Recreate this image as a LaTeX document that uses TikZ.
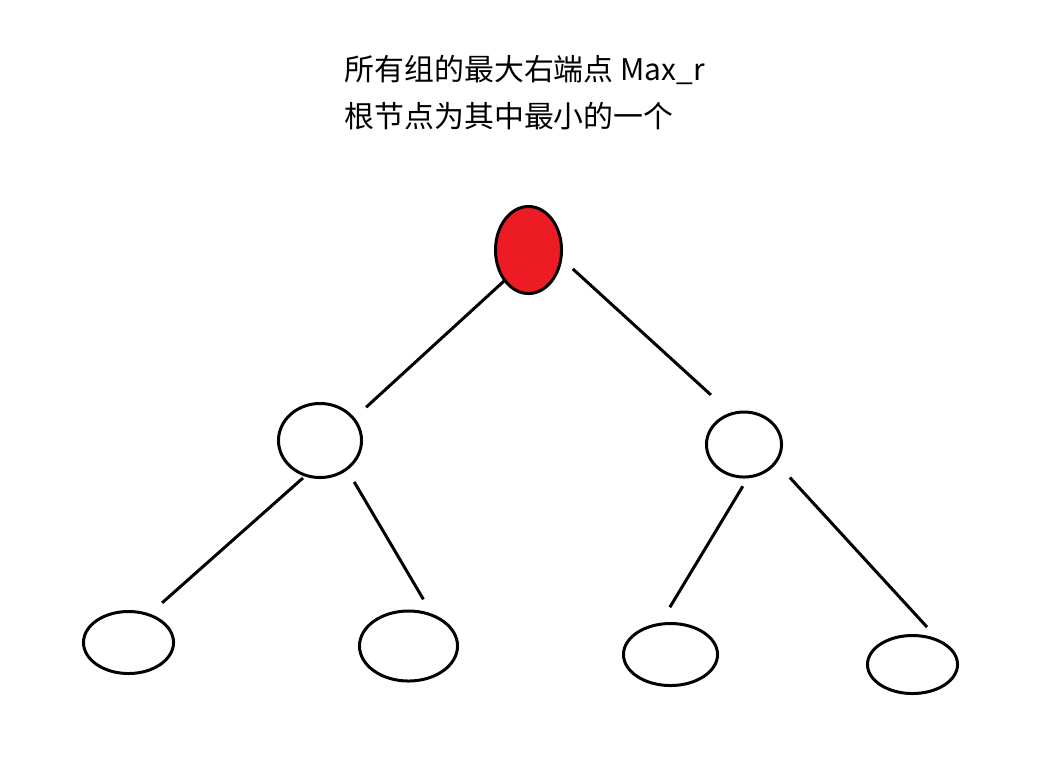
\documentclass[tikz,border=0pt]{standalone}
\usepackage{fontspec}
\newfontfamily\cjk{Noto Sans CJK SC}
\usetikzlibrary{shapes.geometric}
\definecolor{paintred}{HTML}{ED1C24}
\tikzset{
	treenode/.style 2 args={draw, ellipse, line width=0.85pt, inner sep=0pt, outer sep=0pt, minimum width=#1, minimum height=#2},
	branch/.style={line width=0.85pt},
	caption/.style={anchor=base west, inner sep=0pt, font=\cjk\fontsize{8.5pt}{10pt}\selectfont}
}
\begin{document}
\begin{tikzpicture}[x=0.01cm, y=-0.01cm]
	\useasboundingbox (0,0) rectangle (1049,757);
	\node [caption] (maxr) at (344,80) {所有组的最大右端点 Max\_r};
	\node [caption] (rootnote) at (344,127) {根节点为其中最小的一个};
	\node [treenode={0.66cm}{0.87cm}, fill=paintred] (root) at (528.5,250) {};
	\node [treenode={0.83cm}{0.74cm}] (lmid) at (320,440.5) {};
	\node [treenode={0.75cm}{0.65cm}] (rmid) at (744,444.5) {};
	\node [treenode={0.90cm}{0.62cm}] (ll) at (128.5,642.5) {};
	\node [treenode={0.98cm}{0.70cm}] (lr) at (408.5,646) {};
	\node [treenode={0.94cm}{0.62cm}] (rl) at (670.5,654.5) {};
	\node [treenode={0.90cm}{0.58cm}] (rr) at (912.5,664.5) {};
	\draw [branch, shorten >=0.17cm] (root.232) -- (lmid.33);
	\draw [branch, shorten <=0.16cm, shorten >=0.28cm] (root.-14) -- (rmid.112);
	\draw [branch, shorten <=0.04cm, shorten >=0.18cm] (lmid.248) -- (ll.54);
	\draw [branch, shorten <=0.15cm, shorten >=0.19cm] (lmid.-47) -- (lr.51);
	\draw [branch, shorten <=0.11cm, shorten >=0.20cm] (rmid.-82) -- (rl.110);
	\draw [branch, shorten <=0.21cm, shorten >=0.20cm] (rmid.-29) -- (rr.39);
\end{tikzpicture}
\end{document}
